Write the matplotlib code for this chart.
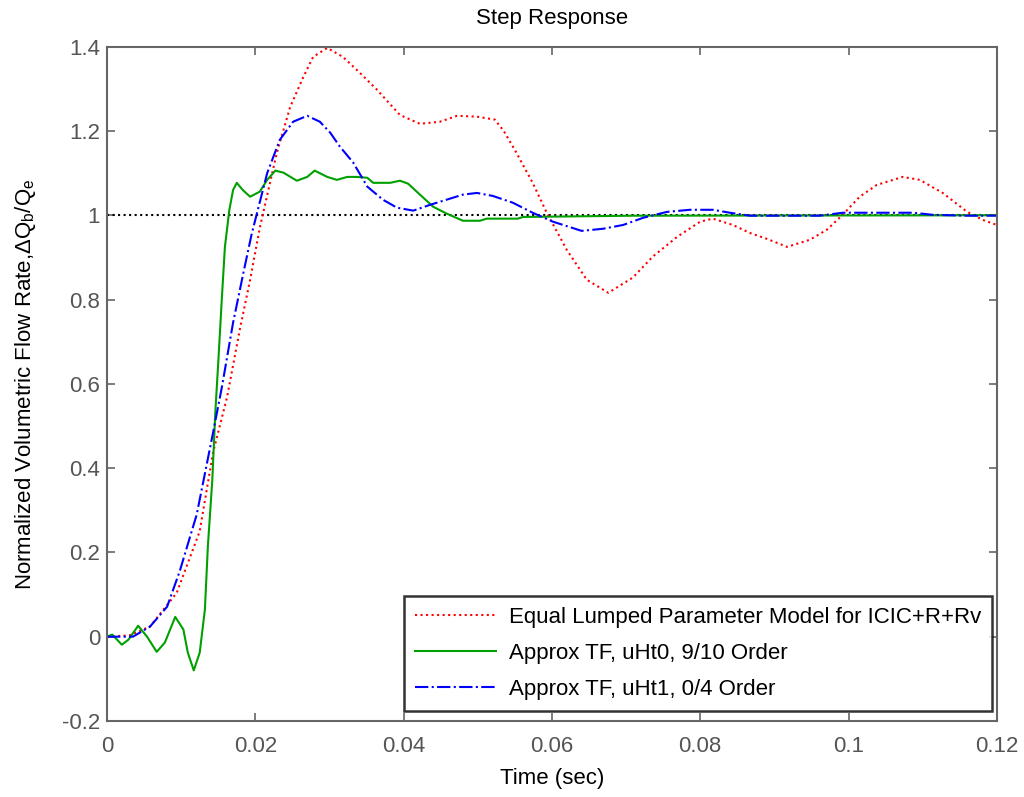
import numpy as np
import matplotlib.pyplot as plt

plt.rcParams['font.family'] = ['Liberation Sans', 'DejaVu Sans']
plt.rcParams['mathtext.fontset'] = 'custom'
plt.rcParams['mathtext.rm'] = 'Liberation Sans'
plt.rcParams['mathtext.it'] = 'Liberation Sans:italic'

# red: equal lumped parameter model
t_lump = [0, 0.003, 0.0058, 0.0094, 0.0125, 0.0143, 0.0162, 0.0179, 0.0193, 0.0206,
          0.0229, 0.0247, 0.0265, 0.0278, 0.0297, 0.0318, 0.0341, 0.0364, 0.0395,
          0.0422, 0.0449, 0.0472, 0.0499, 0.0523, 0.0535, 0.055, 0.0574, 0.0593,
          0.062, 0.0647, 0.0676, 0.0709, 0.0736, 0.0769, 0.08, 0.0817, 0.0844,
          0.0867, 0.089, 0.0917, 0.0948, 0.0971, 0.0992, 0.1015, 0.1038, 0.1073,
          0.1096, 0.1127, 0.116, 0.1181, 0.12]
y_lump = [0, 0.003, 0.024, 0.104, 0.25, 0.437, 0.569, 0.728, 0.847, 0.97,
          1.148, 1.257, 1.329, 1.376, 1.397, 1.376, 1.338, 1.298, 1.238,
          1.217, 1.222, 1.236, 1.234, 1.227, 1.2, 1.155, 1.077, 1.006,
          0.918, 0.847, 0.816, 0.852, 0.902, 0.949, 0.985, 0.992, 0.977,
          0.958, 0.944, 0.925, 0.942, 0.966, 1.001, 1.044, 1.072, 1.091,
          1.084, 1.053, 1.008, 0.989, 0.977]

# green: approx TF uHt0, 9/10 order
t_ht0 = [0, 0.0007, 0.002, 0.0029, 0.0042, 0.0054, 0.0067, 0.0078, 0.0092, 0.0103,
         0.0109, 0.0117, 0.0125, 0.0132, 0.0136, 0.0142, 0.0146, 0.015, 0.0155,
         0.0159, 0.0165, 0.017, 0.0175, 0.0183, 0.0193, 0.0206, 0.0216, 0.0227,
         0.0238, 0.0256, 0.027, 0.028, 0.0297, 0.031, 0.0324, 0.0337, 0.0351,
         0.0359, 0.0382, 0.0395, 0.0406, 0.0422, 0.044, 0.0458, 0.048, 0.0503,
         0.0512, 0.0554, 0.0561, 0.071, 0.12]
y_ht0 = [0, 0.005, -0.019, -0.007, 0.026, 0, -0.036, -0.014, 0.047, 0.017,
         -0.038, -0.08, -0.038, 0.064, 0.214, 0.372, 0.531, 0.65, 0.807,
         0.925, 1.013, 1.06, 1.077, 1.06, 1.044, 1.056, 1.084, 1.106,
         1.101, 1.082, 1.091, 1.106, 1.091, 1.084, 1.091, 1.091, 1.089,
         1.077, 1.077, 1.082, 1.075, 1.049, 1.02, 1.004, 0.987, 0.987,
         0.992, 0.992, 0.996, 0.999, 1.0]

# blue: approx TF uHt1, 0/4 order
t_ht1 = [0, 0.0035, 0.0058, 0.0081, 0.0098, 0.0121, 0.0143, 0.0155, 0.017, 0.0184,
         0.0195, 0.0216, 0.0233, 0.0251, 0.027, 0.0287, 0.0301, 0.0314, 0.0332,
         0.0351, 0.0372, 0.0391, 0.0413, 0.0436, 0.0458, 0.048, 0.0499, 0.052,
         0.0547, 0.0574, 0.0601, 0.064, 0.0669, 0.0696, 0.0723, 0.0755, 0.0786,
         0.0817, 0.084, 0.0867, 0.0961, 0.0992, 0.1087, 0.1114, 0.116, 0.12]
y_ht1 = [0, 0, 0.024, 0.071, 0.155, 0.29, 0.484, 0.593, 0.745, 0.864,
         0.955, 1.1, 1.179, 1.222, 1.236, 1.222, 1.196, 1.163, 1.125,
         1.068, 1.037, 1.018, 1.011, 1.025, 1.037, 1.049, 1.053, 1.046,
         1.03, 1.006, 0.985, 0.963, 0.968, 0.977, 0.994, 1.008, 1.013,
         1.013, 1.006, 0.999, 0.999, 1.006, 1.006, 1.001, 0.999, 0.999]

ref_t = [0, 0.12]
ref_y = [1, 1]

xticks = [0, 0.02, 0.04, 0.06, 0.08, 0.1, 0.12]
xtick_labels = ['0', '0.02', '0.04', '0.06', '0.08', '0.1', '0.12']
yticks = [-0.2, 0, 0.2, 0.4, 0.6, 0.8, 1, 1.2, 1.4]
ytick_labels = ['-0.2', '0', '0.2', '0.4', '0.6', '0.8', '1', '1.2', '1.4']

fig = plt.figure(figsize=(10.24, 7.97), dpi=100)
ax = fig.add_axes([0.1045, 0.0954, 0.869, 0.846])

ax.plot(ref_t, ref_y, color='black', linestyle=':', linewidth=1.5)
ax.plot(t_lump, y_lump, color='#ff0000', linestyle=':', linewidth=1.5,
        label='Equal Lumped Parameter Model for ICIC+R+Rv')
ax.plot(t_ht0, y_ht0, color='#00a000', linestyle='-', linewidth=1.5,
        label='Approx TF, uHt0, 9/10 Order')
ax.plot(t_ht1, y_ht1, color='#0000ff', linestyle='-.', linewidth=1.5,
        label='Approx TF, uHt1, 0/4 Order')

ax.set_xlim(0, 0.12)
ax.set_ylim(-0.2, 1.4)
ax.set_xticks(xticks)
ax.set_xticklabels(xtick_labels)
ax.set_yticks(yticks)
ax.set_yticklabels(ytick_labels)

gray = '#666666'
for s in ax.spines.values():
    s.set_color(gray)
    s.set_linewidth(1.5)
ax.tick_params(direction='in', top=True, right=True, length=6, width=1.2,
               color=gray, labelcolor='#555555', labelsize=16)
ax.tick_params(axis='x', pad=11)
ax.tick_params(axis='y', pad=5)

ax.set_xlabel('Time (sec)', fontsize=16, labelpad=8)
ax.set_ylabel(r'Normalized Volumetric Flow Rate,$\Delta\mathregular{Q_b/Q_e}$',
              fontsize=16)
ax.yaxis.set_label_coords(-0.077, 0.5)
ax.set_title('Step Response', fontsize=16, pad=16)

leg = ax.legend(loc='lower right', bbox_to_anchor=(0.9944, 0.0148),
                fontsize=16, frameon=True, fancybox=False, edgecolor='black',
                borderpad=0.5, handlelength=3.65, handletextpad=0.55,
                labelspacing=0.68, borderaxespad=0)
leg.get_frame().set_linewidth(1.8)

fig.savefig('out.png', dpi=100)
